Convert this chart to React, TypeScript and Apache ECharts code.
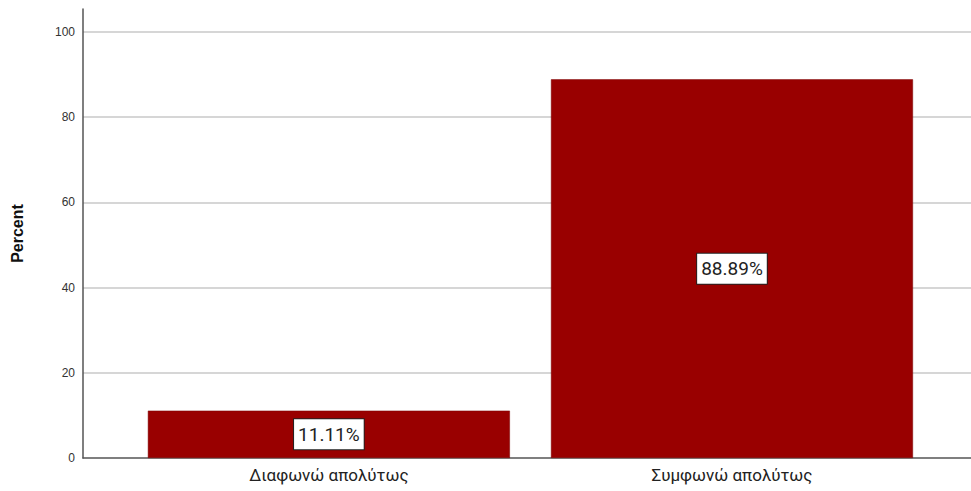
import React, { useEffect, useRef } from "react";
import * as echarts from "echarts";

const categories = ["Διαφωνώ απολύτως", "Συμφωνώ απολύτως"];
const percents = [11.11, 88.89];
const yTicks = [0, 20, 40, 60, 80, 100];

export default function App() {
  const ref = useRef<HTMLDivElement>(null);
  useEffect(() => {
    if (!ref.current) return;
    const chart = echarts.init(ref.current, undefined, { renderer: "svg" });
    chart.setOption({
      animation: false,
      backgroundColor: "#ffffff",
      grid: { left: 83, right: 0, top: 9, bottom: 33, containLabel: false },
      xAxis: {
        type: "value",
        min: -0.61,
        max: 1.593,
        splitLine: { show: false },
        axisLine: { show: true, onZero: false, lineStyle: { color: "#555", width: 1.5 } },
        axisTick: { show: false },
        axisLabel: {
          customValues: categories.map((_, i) => i),
          formatter: (v: number) => categories[Math.round(v)] ?? "",
          fontSize: 17,
          color: "#222",
          fontFamily: "Roboto, 'Noto Sans', sans-serif",
          margin: 8,
        },
      },
      yAxis: {
        type: "value",
        min: 0,
        max: 105.4,
        interval: 20,
        name: "Percent",
        nameLocation: "middle",
        nameGap: 58,
        nameTextStyle: { fontSize: 16, fontWeight: "bold", color: "#111", fontFamily: "Arial, 'Liberation Sans', sans-serif" },
        axisLine: { show: true, onZero: false, lineStyle: { color: "#555", width: 1.5 } },
        axisTick: { show: false },
        axisLabel: {
          customValues: yTicks,
          fontSize: 12,
          color: "#333",
          margin: 8,
          fontFamily: "Arial, 'Liberation Sans', sans-serif",
        },
        splitLine: { show: true, showMaxLine: false, showMinLine: false, lineStyle: { color: "#c8c8c8", width: 1.5 } },
      },
      series: [
        {
          type: "bar",
          data: percents.map((p, i) => [i, p]),
          barWidth: 362,
          itemStyle: { color: "#990000", borderColor: "#7a0000", borderWidth: 0.5 },
          label: {
            show: true,
            position: "inside",
            formatter: (p: any) => p.value[1].toFixed(2) + "%",
            color: "#222",
            fontSize: 19,
            fontFamily: "Roboto, 'Noto Sans', sans-serif",
            backgroundColor: "#ffffff",
            borderColor: "#222",
            borderWidth: 1,
            padding: [6, 4, 5, 4],
          },
        },
      ],
    });
    return () => chart.dispose();
  }, []);
  return <div ref={ref} style={{ width: 971, height: 491, position: "fixed", left: 0, top: 0 }} />;
}
